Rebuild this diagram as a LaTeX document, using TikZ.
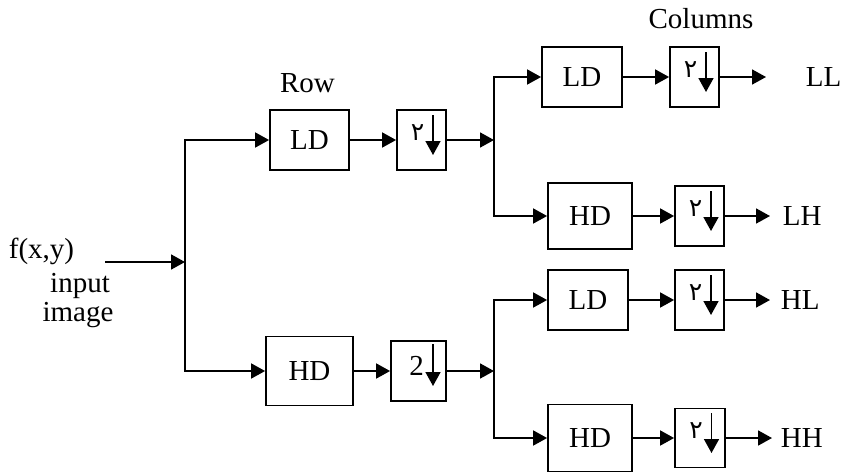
\documentclass[tikz,border=0pt]{standalone}
\usepackage{fontspec}
\setmainfont{Liberation Serif}
\newfontfamily\arabicfont[Script=Arabic]{DejaVu Sans}
\usetikzlibrary{arrows.meta,calc}

\begin{document}
\begin{tikzpicture}[x=1pt,y=-1pt,line width=1.8pt,
  every node/.style={font=\fontsize{29}{33}\selectfont,inner sep=0pt},
  blk/.style={draw,line width=1.8pt},
  arr/.style={-{Triangle[length=14pt,width=15pt]}},
  dn/.style={-{Triangle[length=14pt,width=15pt]},line width=1.6pt},
  digit/.style={font=\arabicfont\fontsize{25}{29}\selectfont}]
\useasboundingbox (0,0) rectangle (849,474);

% ---- row filtering stage ----
\node[blk,minimum width=79pt,minimum height=60pt] (rLD) at (309.5,140) {LD};
\node[blk,minimum width=49pt,minimum height=60pt] (rD1) at (421.5,140) {};
\node[blk,minimum width=87pt,minimum height=69pt] (rHD) at (309.5,371) {HD};
\node[blk,minimum width=55pt,minimum height=60pt] (rD2) at (418.5,371) {};

% ---- column filtering stage ----
\node[blk,minimum width=80pt,minimum height=60pt] (cLL) at (582,77) {LD};
\node[blk,minimum width=49pt,minimum height=60pt] (dLL) at (694.5,77) {};
\node[blk,minimum width=84pt,minimum height=66pt] (cLH) at (590,216) {HD};
\node[blk,minimum width=49pt,minimum height=60pt] (dLH) at (699.5,216) {};
\node[blk,minimum width=80pt,minimum height=60pt] (cHL) at (588,300) {LD};
\node[blk,minimum width=49pt,minimum height=60pt] (dHL) at (699.5,300) {};
\node[blk,minimum width=84pt,minimum height=67pt] (cHH) at (590,438) {HD};
\node[blk,minimum width=50pt,minimum height=59pt] (dHH) at (700,438) {};

% ---- downsampling symbols: digit plus down arrow ----
\node[digit] (g1) at ([shift={(-4,-7)}]rD1.center) {٢};
\draw[dn] ([shift={(11.5,-25)}]rD1.center) -- ([shift={(11.5,15)}]rD1.center);
\node (g2) at ([shift={(-2,-5)}]rD2.center) {2};
\draw[dn] ([shift={(14.5,-27)}]rD2.center) -- ([shift={(14.5,15)}]rD2.center);
\foreach \b in {dLL,dLH,dHL,dHH}{
  \node[digit] (g-\b) at ([shift={(-4,-7)}]\b.center) {٢};
  \draw[dn] ([shift={(11.5,-25)}]\b.center) -- ([shift={(11.5,15)}]\b.center);
}

% ---- labels ----
\node[anchor=base] (lrow) at (307.5,92) {Row};
\node[anchor=base] (lcol) at (701,28) {Columns};
\node[anchor=base west] (lf) at (8,258) {f(x,y)};
\node[anchor=base] (lin) at (80,292) {input};
\node[anchor=base] (lim) at (78,321) {image};
\node[anchor=west] (oLLt) at (805,77) {LL};
\node[anchor=west] (oLHt) at (782,216) {LH};
\node[anchor=west] (oHLt) at (780,300) {HL};
\node[anchor=west] (oHHt) at (780,438) {HH};

% ---- branching points and free ends ----
\coordinate (src) at (105,262);
\coordinate (s1) at (185,262);
\coordinate (s2) at (494,140);
\coordinate (s3) at (494,371);
\coordinate (eLL) at (766,77);
\coordinate (eLH) at (770,216);
\coordinate (eHL) at (770,300);
\coordinate (eHH) at (772,438);

% ---- connectors ----
\draw[arr] (src) -- (s1);
\draw[arr] (s1) |- (rLD.west);
\draw[arr] (s1) |- (rHD.west);
\draw[arr] (rLD.east) -- (rD1.west);
\draw[arr] (rHD.east) -- (rD2.west);
\draw[arr] (rD1.east) -- (s2);
\draw[arr] (rD2.east) -- (s3);
\draw[arr] (s2) |- (cLL.west);
\draw[arr] (s2) |- (cLH.west);
\draw[arr] (s3) |- (cHL.west);
\draw[arr] (s3) |- (cHH.west);
\draw[arr] (cLL.east) -- (dLL.west);
\draw[arr] (cLH.east) -- (dLH.west);
\draw[arr] (cHL.east) -- (dHL.west);
\draw[arr] (cHH.east) -- (dHH.west);
\draw[arr] (dLL.east) -- (eLL);
\draw[arr] (dLH.east) -- (eLH);
\draw[arr] (dHL.east) -- (eHL);
\draw[arr] (dHH.east) -- (eHH);
\end{tikzpicture}
\end{document}
